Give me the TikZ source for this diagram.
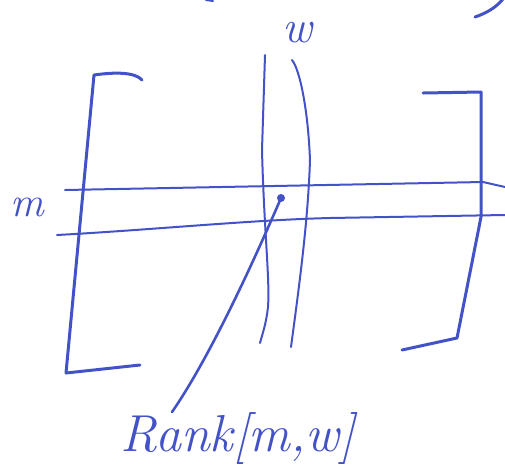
\documentclass[tikz,border=0pt]{standalone}
\begin{document}
\definecolor{ink}{RGB}{68,82,200}
\tikzset{
  pen/.style={draw=ink, line width=3pt, line cap=round, line join=round},
  finepen/.style={draw=ink, line width=2pt, line cap=round, line join=round},
  hand/.style={text=ink, inner sep=0pt, font=\itshape\fontsize{42}{42}\selectfont}
}
\begin{tikzpicture}[x=1pt, y=-1pt]
\useasboundingbox (0,0) rectangle (505,472);
% brackets
\draw[pen] (142,80) .. controls (135,72) and (115,72) .. (94,75) -- (66,373) -- (140,365);
\draw[pen] (423,93) -- (481,92) -- (481,217) -- (457,338) -- (402,350);
% horizontal band (m)
\draw[finepen] (65,190) -- (483,182) -- (505,187);
\draw[finepen] (57,235) .. controls (150,230) and (250,220) .. (330,218) -- (505,215);
% vertical band (w)
\draw[finepen] (265,55) -- (262,150) .. controls (264,230) and (270,280) .. (268,307) .. controls (266,325) and (262,335) .. (260,343);
\draw[finepen] (292,60) .. controls (300,70) and (308,110) .. (310,160) .. controls (308,220) and (300,280) .. (291,347);
% labels
\node[hand] (m) at (27,207) {m};
\node[hand, font=\itshape\fontsize{46}{46}\selectfont] (w) at (297,33) {w};
\node[hand, font=\itshape\fontsize{52}{52}\selectfont] (rank) at (238,438) {Rank[m,w]};
% cell and pointer
\coordinate (cell) at (281,198);
\fill[ink] (cell) circle (4pt);
\draw[pen, line width=2.6pt] (cell) .. controls (265,235) and (215,350) .. (172,412);
% partial strokes at the top edge
\draw[finepen] (206,0) -- (213,1);
\draw[pen] (475,17) .. controls (490,12) and (498,5) .. (503,-1);
\end{tikzpicture}
\end{document}
